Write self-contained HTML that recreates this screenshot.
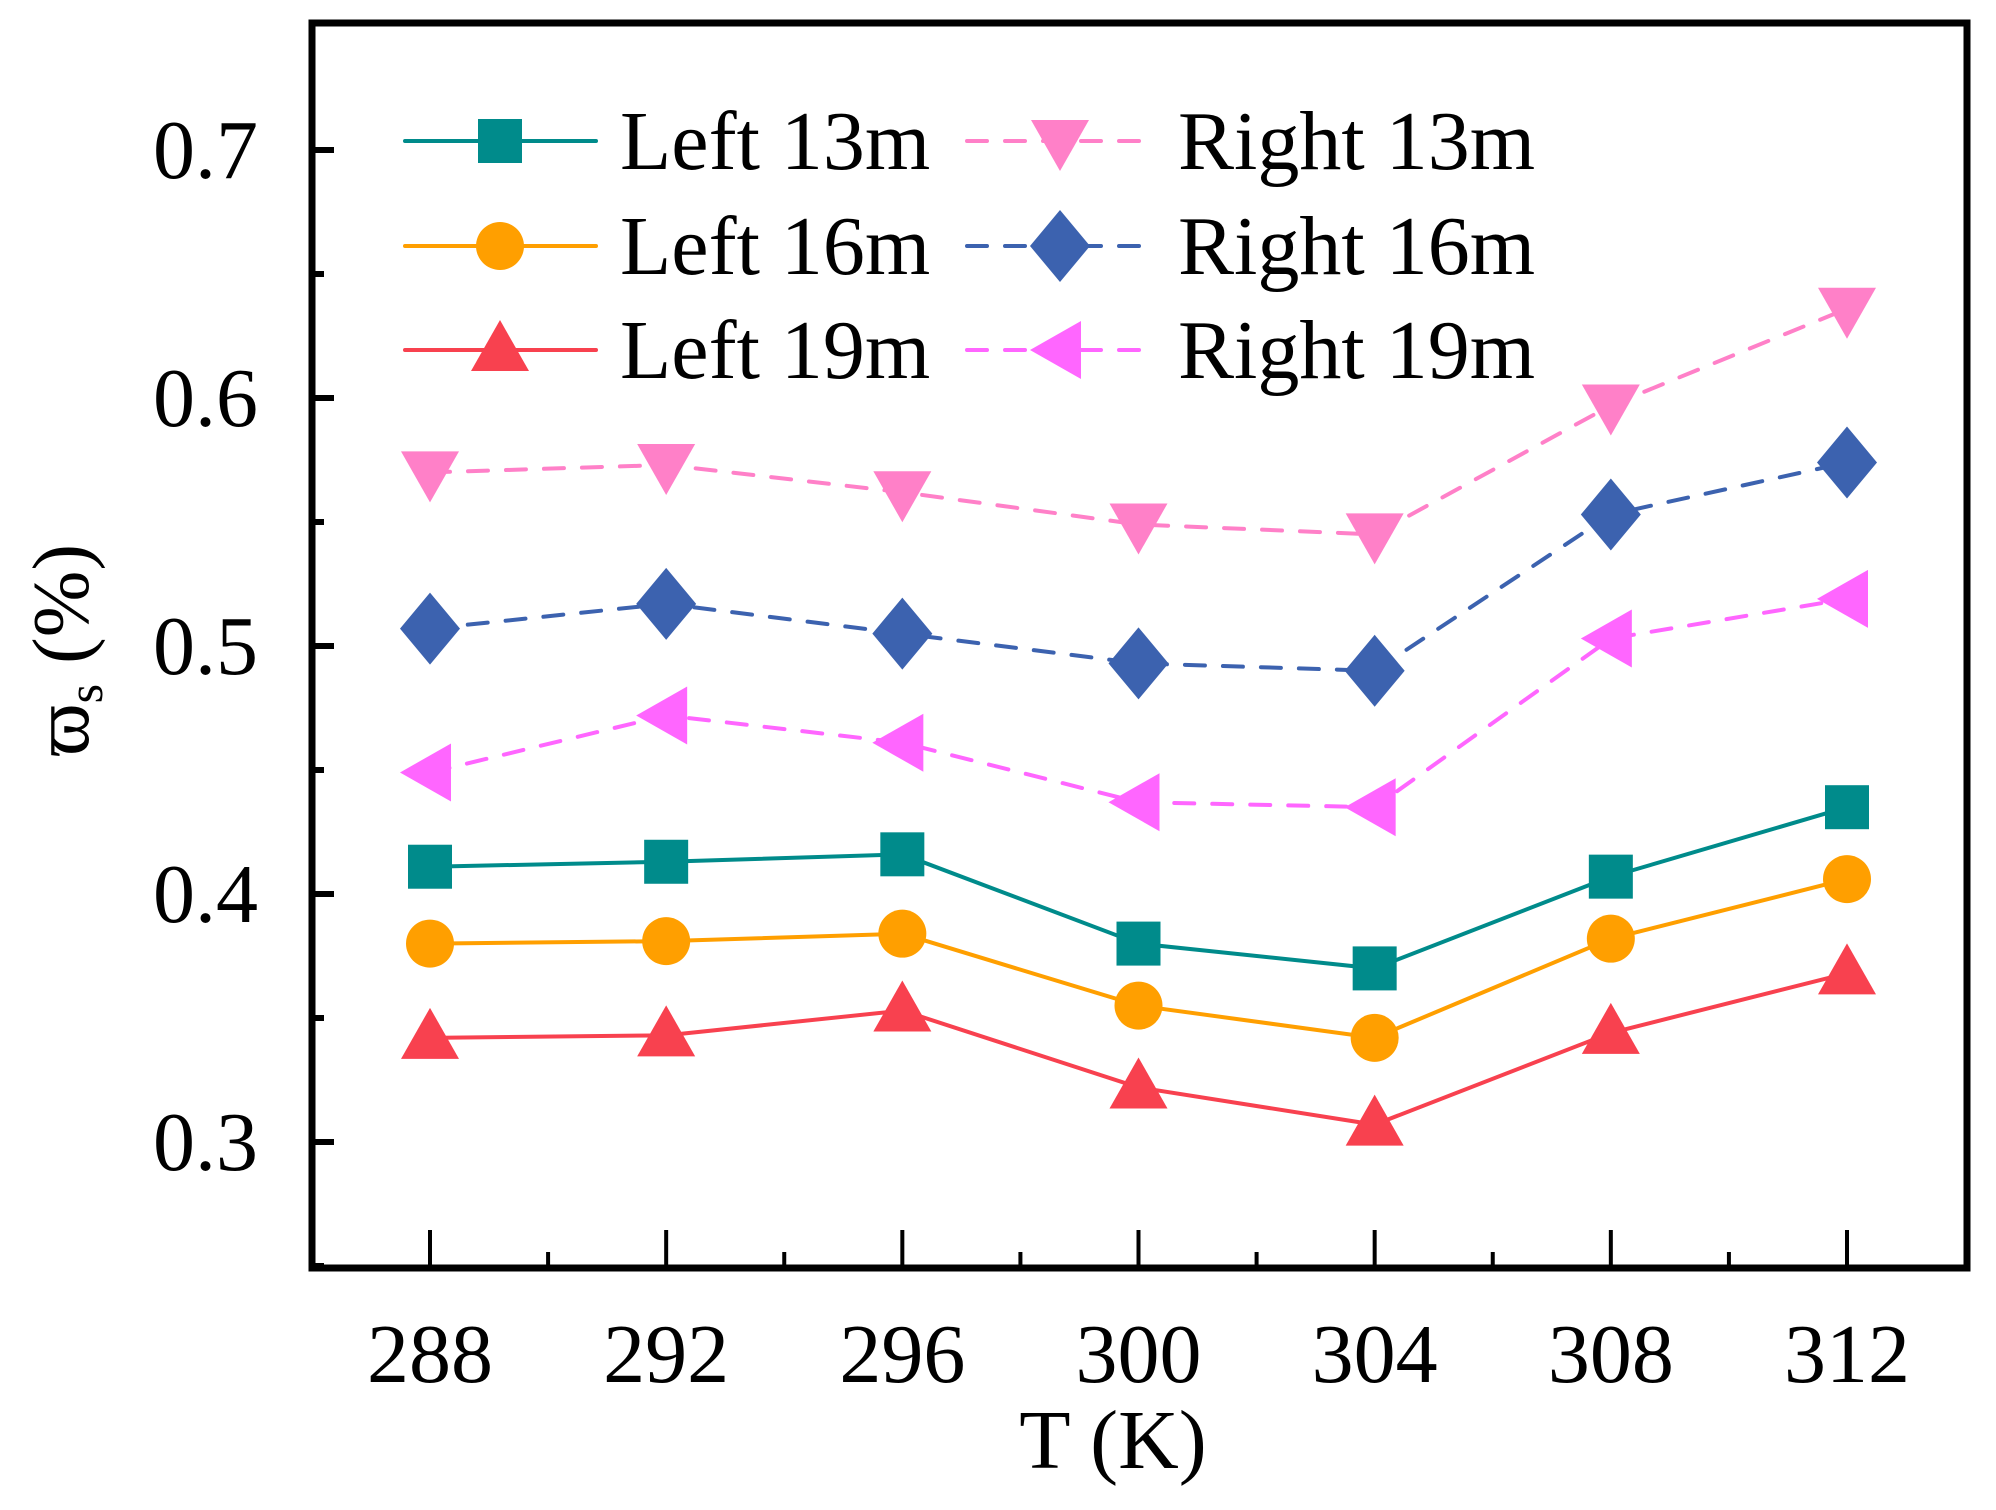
<!DOCTYPE html>
<html><head><meta charset="utf-8"><style>
html,body{margin:0;padding:0;background:#fff}
svg{display:block}
text{font-family:"Liberation Serif",serif;fill:#000}
</style></head><body>
<svg id="chart" width="1996" height="1510" viewBox="0 0 1996 1510">
<g id="marks"></g>
<g id="axes"></g>
<g id="legend"></g>
<text x="1113" y="1468" font-size="84" text-anchor="middle">T (K)</text>
<text transform="translate(88,650) rotate(-90)" font-size="80" text-anchor="middle">ϖ<tspan font-size="50" dy="14">s</tspan><tspan dy="-14"> (%)</tspan></text>
</svg>
<script>
const categories=[288,292,296,300,304,308,312];
const left13=[0.411,0.413,0.416,0.380,0.370,0.407,0.435];
const left16=[0.380,0.381,0.384,0.355,0.342,0.382,0.406];
const left19=[0.342,0.343,0.353,0.322,0.307,0.344,0.368];
const right13=[0.570,0.573,0.562,0.549,0.545,0.597,0.636];
const right16=[0.507,0.517,0.505,0.493,0.490,0.553,0.574];
const right19=[0.449,0.472,0.461,0.437,0.435,0.503,0.519];
const yTicks=[0.3,0.4,0.5,0.6,0.7];
const yTickLabels=["0.3","0.4","0.5","0.6","0.7"];
const xTickLabels=["288","292","296","300","304","308","312"];
const seriesNames=["Left 13m","Left 16m","Left 19m","Right 13m","Right 16m","Right 19m"];

const NS="http://www.w3.org/2000/svg";
const PL=312,PR=1967,PT=23,PB=1268;
function xs(v){return 430+(v-288)*(1847-430)/24;}
function ys(v){return 150+(0.7-v)*2480;}
function mk(tag,attrs,parent){const e=document.createElementNS(NS,tag);for(const k in attrs)e.setAttribute(k,attrs[k]);parent.appendChild(e);return e;}

function marker(g,type,cx,cy,color){
  let e;
  if(type==='square'){e=mk('rect',{x:cx-22,y:cy-22,width:44,height:44,fill:color},g);}
  else if(type==='circle'){e=mk('circle',{cx:cx,cy:cy,r:24,fill:color},g);}
  else if(type==='up'){e=mk('polygon',{points:`${cx},${cy-30} ${cx-29},${cy+21} ${cx+29},${cy+21}`,fill:color},g);}
  else if(type==='down'){e=mk('polygon',{points:`${cx},${cy+30} ${cx-29},${cy-21} ${cx+29},${cy-21}`,fill:color},g);}
  else if(type==='diamond'){e=mk('polygon',{points:`${cx},${cy-36} ${cx+30},${cy} ${cx},${cy+36} ${cx-30},${cy}`,fill:color},g);}
  else {e=mk('polygon',{points:`${cx-30},${cy} ${cx+21},${cy-29} ${cx+21},${cy+29}`,fill:color},g);}
  return e;
}

const series=[
 {vals:left13,color:'#008B8B',m:'square',dash:null},
 {vals:left16,color:'#FF9F00',m:'circle',dash:null},
 {vals:left19,color:'#F8414F',m:'up',dash:null},
 {vals:right13,color:'#FF80C8',m:'down',dash:'20 18'},
 {vals:right16,color:'#3C62AF',m:'diamond',dash:'20 18'},
 {vals:right19,color:'#FF66FF',m:'left',dash:'20 18'}
];

const marks=document.getElementById('marks');
series.forEach((s,i)=>{
  const g=mk('g',{},marks);
  
  
  const pts=s.vals.map((v,j)=>xs(categories[j])+','+ys(v)).join(' ');
  const pl=mk('polyline',{points:pts,fill:'none',stroke:s.color,'stroke-width':4,'stroke-linecap':'round'},g);
  if(s.dash)pl.setAttribute('stroke-dasharray',s.dash);
  
  
  s.vals.forEach((v,j)=>{
    const e=marker(g,s.m,xs(categories[j]),ys(v),s.color);
    
    
  });
});

const axes=document.getElementById('axes');
const frame=mk('rect',{x:PL,y:PT,width:PR-PL,height:PB-PT,fill:'none',stroke:'#000','stroke-width':7},axes);


yTicks.forEach((v,i)=>{
  const y=ys(v);
  const t=mk('line',{x1:PL,x2:PL+22,y1:y,y2:y,stroke:'#000','stroke-width':6},axes);
  
  
  const l=mk('text',{x:258,y:y+28,'font-size':84,'text-anchor':'end'},axes);
  l.textContent=yTickLabels[i];
  
  
  if(i<yTicks.length-1){
    const ym=ys(v+0.05);
    const m=mk('line',{x1:PL,x2:PL+12,y1:ym,y2:ym,stroke:'#000','stroke-width':6},axes);
    
    
  }
});
const mb=mk('line',{x1:PL,x2:PL+12,y1:ys(0.25),y2:ys(0.25),stroke:'#000','stroke-width':6},axes);


categories.forEach((c,i)=>{
  const x=xs(c);
  const t=mk('line',{x1:x,x2:x,y1:PB,y2:PB-38,stroke:'#000','stroke-width':4},axes);
  
  
  const l=mk('text',{x:x,y:1382,'font-size':84,'text-anchor':'middle'},axes);
  l.textContent=xTickLabels[i];
  
  
  if(i<categories.length-1){
    const xm=xs(c+2);
    const m=mk('line',{x1:xm,x2:xm,y1:PB,y2:PB-16,stroke:'#000','stroke-width':4},axes);
    
    
  }
});

const legend=document.getElementById('legend');
const legRows=[141,246,350];
series.forEach((s,i)=>{
  const col=i<3?0:1, row=i%3;
  const x0=col?967:405, x1=col?1152:596, mx=col?1060:500, tx=col?1178:620;
  const y=legRows[row];
  const g=mk('g',{},legend);
  
  
  const ln=mk('line',{x1:x0,x2:x1,y1:y,y2:y,stroke:s.color,'stroke-width':4,'stroke-linecap':'round'},g);
  if(s.dash)ln.setAttribute('stroke-dasharray',s.dash);
  
  
  const m=marker(g,s.m,mx,y,s.color);
  
  
  const t=mk('text',{x:tx,y:y+28,'font-size':84},g);
  t.textContent=seriesNames[i];
  
  
});
</script>
</body></html>
